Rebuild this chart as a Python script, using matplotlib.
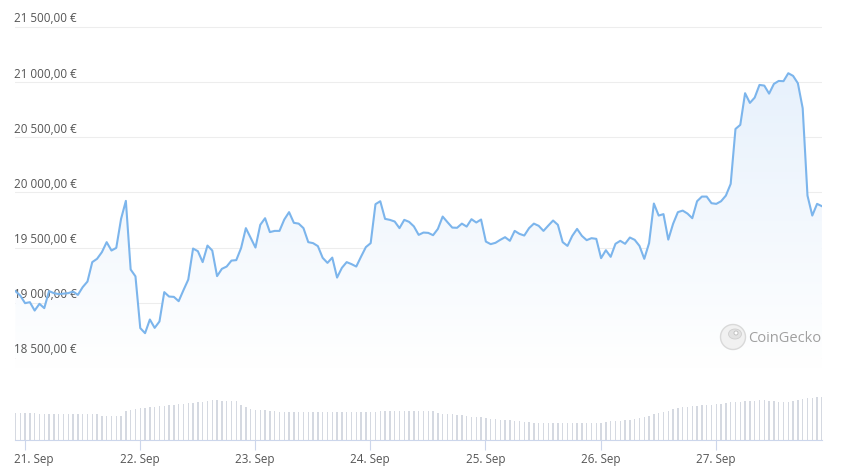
import numpy as np
import pandas as pd
import matplotlib
matplotlib.use("Agg")
import matplotlib.pyplot as plt
import matplotlib.dates as mdates
from matplotlib.colors import LinearSegmentedColormap
from matplotlib.patches import Circle, Ellipse
from matplotlib.transforms import ScaledTranslation

plt.rcParams["font.family"] = ["Open Sans", "DejaVu Sans"]

# ---------------- data: BTC / EUR, hourly, 20 Sep 22:00 -> 27 Sep 22:00 ----------------
start = "2022-09-20 22:05"

price = [
    19106, 19066, 18997, 19006, 18930, 18991, 18952, 19106, 19088, 19079,
    19084, 19088, 19102, 19072, 19142, 19193, 19369, 19399, 19459, 19550,
    19474, 19498, 19761, 19924, 19302, 19240, 18771, 18725, 18849, 18773,
    18831, 19097, 19057, 19054, 19015, 19115, 19211, 19492, 19468, 19369,
    19519, 19474, 19242, 19308, 19329, 19383, 19387, 19496, 19677, 19589,
    19501, 19707, 19767, 19641, 19652, 19652, 19755, 19822, 19725, 19718,
    19677, 19550, 19541, 19514, 19408, 19362, 19410, 19229, 19317, 19369,
    19351, 19329, 19419, 19505, 19541, 19894, 19921, 19761, 19752, 19737,
    19677, 19752, 19734, 19693, 19616, 19637, 19634, 19613, 19670, 19782,
    19731, 19682, 19680, 19718, 19691, 19758, 19728, 19755, 19555, 19532,
    19544, 19571, 19595, 19562, 19652, 19625, 19610, 19677, 19718, 19698,
    19652, 19700, 19746, 19707, 19550, 19516, 19607, 19670, 19607, 19568,
    19586, 19580, 19405, 19477, 19417, 19535, 19562, 19535, 19592, 19571,
    19516, 19399, 19541, 19900, 19791, 19804, 19573, 19716, 19822, 19836,
    19809, 19767, 19921, 19963, 19963, 19903, 19897, 19921, 19972, 20078,
    20576, 20613, 20900, 20812, 20860, 20975, 20969, 20896, 20984, 21011,
    21009, 21081, 21057, 20990, 20764, 19972, 19791, 19897, 19876,
]

# 24h trading volume, bn EUR
volume = [
    27.3, 27.3, 27.3, 27.3, 27.3, 26.0, 26.0, 26.0, 26.0, 26.0,
    26.0, 26.0, 26.0, 26.0, 26.0, 26.0, 26.0, 26.0, 23.7, 23.7,
    23.7, 23.7, 23.7, 28.7, 30.5, 31.5, 32.0, 32.5, 33.0, 33.5,
    34.0, 34.5, 35.0, 35.5, 36.0, 36.5, 37.0, 37.5, 38.0, 38.5,
    39.0, 39.7, 39.7, 39.0, 39.0, 38.7, 38.7, 35.0, 33.0, 31.0,
    30.0, 30.0, 30.0, 29.5, 29.0, 28.0, 27.7, 27.7, 27.7, 27.7,
    27.7, 27.7, 27.7, 27.7, 27.7, 27.7, 27.7, 27.7, 28.3, 28.3,
    28.3, 28.3, 28.3, 28.3, 28.3, 28.3, 29.3, 29.0, 28.7, 28.7,
    28.7, 28.7, 28.7, 28.7, 28.7, 28.7, 28.7, 28.7, 27.0, 26.5,
    26.0, 26.0, 25.5, 25.0, 24.5, 23.5, 23.0, 22.7, 22.0, 21.5,
    21.0, 20.5, 20.0, 20.0, 19.5, 19.0, 18.5, 18.0, 17.3, 17.3,
    17.3, 17.3, 17.3, 17.3, 17.3, 17.3, 17.3, 17.3, 17.3, 17.3,
    17.3, 17.3, 17.3, 18.5, 19.0, 19.3, 19.5, 20.0, 20.5, 21.0,
    21.7, 23.0, 24.5, 26.0, 27.0, 28.0, 29.5, 31.0, 32.0, 32.7,
    33.5, 34.0, 34.5, 35.0, 35.0, 35.5, 36.0, 36.5, 37.0, 37.7,
    38.0, 38.5, 39.0, 39.3, 39.5, 39.7, 39.7, 39.5, 39.0, 38.5,
    38.3, 38.3, 39.0, 40.0, 41.0, 42.0, 42.5, 42.7, 42.7,
]

price_ticks = [18500, 19000, 19500, 20000, 20500, 21000, 21500]
day_ticks = ["2022-09-21", "2022-09-22", "2022-09-23", "2022-09-24",
             "2022-09-25", "2022-09-26", "2022-09-27"]
day_labels = ["21. Sep", "22. Sep", "23. Sep", "24. Sep", "25. Sep", "26. Sep", "27. Sep"]

# ---------------- figure ----------------
W, H = 842, 477
fig = plt.figure(figsize=(W / 100, H / 100), dpi=100)

times = pd.date_range(start, periods=len(price), freq="h")
x = mdates.date2num(times)
xlim = (x[0] - 0.004, x[-1] + 0.001)

line_col = "#7cb5ec"
text_col = "#555555"
axis_col = "#ccd6eb"

# price panel: 21500 sits at y=28px, 18500 at y=359px
ax = fig.add_axes([15 / W, 1 - 370 / H, 807 / W, 360 / H])
ppe = 331.0 / 3000
ylim = (18500 - 11 / ppe, 21500 + 18 / ppe)
for s in ax.spines.values():
    s.set_visible(False)
ax.set_xticks([])
ax.set_yticks([])

for t in price_ticks:
    ax.axhline(t, color="#ededed", lw=0.8, zorder=0)
    lab = f"{t:,.2f}".replace(",", " ").replace(".", ",") + " €"
    ax.annotate(lab, xy=(0, t), xycoords=("axes fraction", "data"),
                xytext=(-0.7, 1.8), textcoords="offset points",
                ha="left", va="bottom", fontsize=8.4, color=text_col)

# gradient fill under the line
y0 = ylim[0]
poly = ax.fill_between(x, price, y0, color="none", lw=0)
cmap = LinearSegmentedColormap.from_list("fade", ["#ffffff", "#e7f1fc"])
grad = np.linspace(0, 1, 256).reshape(-1, 1)
img = ax.imshow(grad, cmap=cmap, aspect="auto", origin="lower",
                extent=[x[0], x[-1], y0, max(price)], zorder=1)
img.set_clip_path(poly.get_paths()[0], transform=ax.transData)
ax.set_xlim(*xlim)
ax.set_ylim(*ylim)

ax.plot(x, price, color=line_col, lw=1.5, zorder=3, solid_joinstyle="round")

# volume panel
vx = fig.add_axes([15 / W, 1 - 441 / H, 807 / W, 51 / H])
vx.bar(x, volume, width=0.012, color="#d5d9e1", zorder=2)
vx.set_xlim(*xlim)
vx.set_ylim(0, 51)
for k in ["top", "right", "left"]:
    vx.spines[k].set_visible(False)
vx.spines["bottom"].set_color(axis_col)
vx.spines["bottom"].set_linewidth(0.8)
vx.set_yticks([])
vx.set_xticks(mdates.date2num(pd.to_datetime(day_ticks)))
vx.set_xticklabels(day_labels)
vx.tick_params(axis="x", length=7, width=0.8, color=axis_col,
               labelsize=8.4, labelcolor=text_col, pad=2)
first = vx.get_xticklabels()[0]
first.set_horizontalalignment("left")
first.set_transform(first.get_transform() + ScaledTranslation(-0.11, 0, fig.dpi_scale_trans))

# CoinGecko watermark
wm = fig.add_axes([0, 0, 1, 1], zorder=5)
wm.set_xlim(0, W)
wm.set_ylim(H, 0)
wm.axis("off")
wm.add_patch(Circle((733, 338), 12.5, facecolor="#f1f1f1", edgecolor="#d9d9d9", lw=1))
wm.add_patch(Ellipse((735, 335), 13, 10, facecolor="#e2e2e2", edgecolor="#cfcfcf", lw=0.6))
wm.add_patch(Circle((736, 334), 2, facecolor="#ffffff", edgecolor="#bdbdbd", lw=0.6))
wm.text(748, 338.5, "CoinGecko", fontsize=10.5, color="#a0a0a0", ha="left", va="center")

fig.savefig("out.png", dpi=100)
